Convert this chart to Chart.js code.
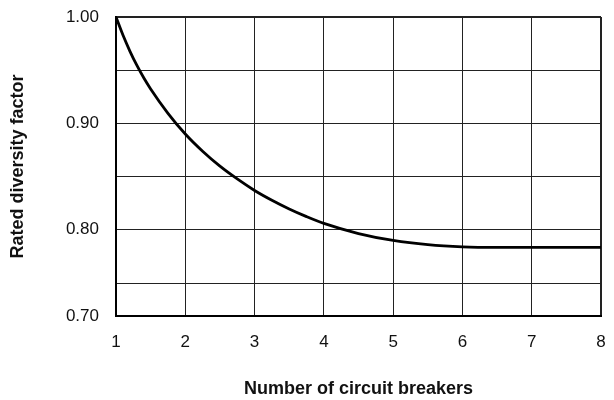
<!DOCTYPE html>
<html>
<head>
<meta charset="utf-8">
<script src="https://cdn.jsdelivr.net/npm/chart.js@4/dist/chart.umd.min.js"></script>
<style>
  html, body { margin: 0; padding: 0; background: #fff; }
  canvas { display: block; }
</style>
</head>
<body>
<canvas id="chart" width="614" height="400"></canvas>
<script>
// Rated diversity factor vs number of circuit breakers
const breakers = [1, 1.1, 1.2, 1.3, 1.4, 1.5, 1.75, 2, 2.25, 2.5, 2.75, 3, 3.25, 3.5, 3.75, 4, 4.5, 5, 5.5, 6, 6.5, 7, 8];
const diversity = [1.000, 0.983, 0.968, 0.9547, 0.9429, 0.9324, 0.9095, 0.890, 0.8738, 0.8598, 0.8478, 0.837, 0.8278, 0.8196, 0.8124, 0.806, 0.7965, 0.790, 0.786, 0.784, 0.7835, 0.7835, 0.7835];

// y axis has a compressed bottom band: the lowest line is labelled 0.70
const yTickValues = [0.719, 0.75, 0.80, 0.85, 0.90, 0.95, 1.00];
const yTickLabels = ['0.70', '', '0.80', '', '0.90', '', '1.00'];
const xTickValues = [1, 2, 3, 4, 5, 6, 7, 8];

const FONT = "'Liberation Sans', Arial, Helvetica, sans-serif";

const points = breakers.map((x, i) => ({ x: x, y: diversity[i] }));

new Chart(document.getElementById('chart').getContext('2d'), {
    type: 'line',
    data: {
        datasets: [{
            data: points,
            borderColor: '#000',
            borderWidth: 2.8,
            pointRadius: 0,
            cubicInterpolationMode: 'monotone',
            fill: false
        }]
    },
    options: {
        responsive: false,
        animation: false,
        layout: { padding: { top: 17, right: 13, left: 0, bottom: 0 } },
        plugins: {
            legend: { display: false },
            tooltip: { enabled: false }
        },
        scales: {
            x: {
                type: 'linear',
                min: 1,
                max: 8,
                afterBuildTicks: scale => { scale.ticks = xTickValues.map(v => ({ value: v })); },
                afterFit: scale => {
                    scale.height = 84;
                    scale.paddingLeft = 0;
                    scale.paddingRight = 0;
                },
                ticks: {
                    color: '#111',
                    padding: 16,
                    font: { family: FONT, size: 17 },
                    callback: v => String(v)
                },
                grid: {
                    color: '#222',
                    drawTicks: false,
                    lineWidth: ctx => (ctx.tick && ctx.tick.value === 8) ? 2 : 1
                },
                border: { display: true, color: '#000', width: 2 },
                title: {
                    display: true,
                    text: 'Number of circuit breakers',
                    color: '#111',
                    font: { family: FONT, size: 18, weight: 'bold' },
                    padding: { top: 0, bottom: 0 }
                }
            },
            y: {
                type: 'linear',
                min: yTickValues[0],
                max: 1.0,
                afterBuildTicks: scale => { scale.ticks = yTickValues.map(v => ({ value: v })); },
                afterFit: scale => {
                    scale.width = 116;
                    scale.paddingTop = 0;
                    scale.paddingBottom = 0;
                },
                ticks: {
                    color: '#111',
                    padding: 17,
                    font: { family: FONT, size: 17 },
                    callback: (v, i) => yTickLabels[i]
                },
                grid: {
                    color: '#222',
                    drawTicks: false,
                    lineWidth: ctx => (ctx.tick && ctx.tick.value === 1) ? 2 : 1
                },
                border: { display: true, color: '#000', width: 2 },
                title: {
                    display: true,
                    text: 'Rated diversity factor',
                    color: '#111',
                    font: { family: FONT, size: 18, weight: 'bold' },
                    padding: { top: 7, bottom: 0 }
                }
            }
        }
    }
});
</script>
</body>
</html>
